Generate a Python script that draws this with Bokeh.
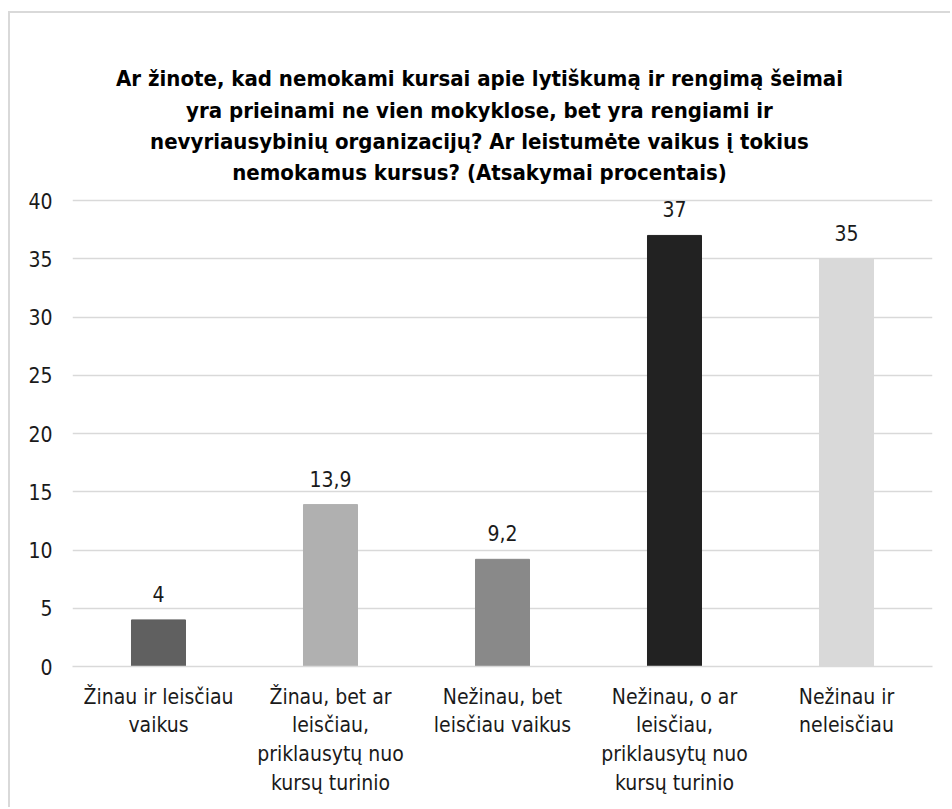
from bokeh.plotting import figure
from bokeh.models import Range1d, FixedTicker, ColumnDataSource
from bokeh.embed import file_html
from bokeh.resources import INLINE
from bokeh.core.properties import value

categories = [
    "Žinau ir leisčiau\nvaikus",
    "Žinau, bet ar\nleisčiau,\npriklausytų nuo\nkursų turinio",
    "Nežinau, bet\nleisčiau vaikus",
    "Nežinau, o ar\nleisčiau,\npriklausytų nuo\nkursų turinio",
    "Nežinau ir\nneleisčiau",
]
values = [4, 13.9, 9.2, 37, 35]
value_labels = ["4", "13,9", "9,2", "37", "35"]
colors = ["#606060", "#b0b0b0", "#898989", "#222222", "#d9d9d9"]
y_ticks = [0, 5, 10, 15, 20, 25, 30, 35, 40]

title_lines = [
    "Ar žinote, kad nemokami kursai apie lytiškumą ir rengimą šeimai",
    "yra prieinami ne vien mokyklose, bet yra rengiami ir",
    "nevyriausybinių organizacijų? Ar leistumėte vaikus į tokius",
    "nemokamus kursus? (Atsakymai procentais)",
]

FONT = "DejaVu Sans Condensed"
TXT = "#1a1a1a"

# layout (pixels)
AXIS_MAX = 40
PLOT_H = 466            # height of the 0..40 value area
TITLE_SPACE = 160       # extra frame space above the value area for the title
FRAME_W = 860
px_per_unit = PLOT_H / AXIS_MAX
px_per_cat = FRAME_W / len(categories)
title_center_px = 407               # px right of frame left edge
title_rows_px = [122, 90, 59, 28]   # line centres, px above the 40 gridline

src = ColumnDataSource(dict(cat=categories, val=values, lab=value_labels, col=colors))

p = figure(x_range=categories, y_range=Range1d(0, (PLOT_H + TITLE_SPACE) / px_per_unit),
           width=940, height=794, frame_width=FRAME_W, frame_height=PLOT_H + TITLE_SPACE,
           title=None, output_backend="svg", toolbar_location=None,
           min_border_left=62, min_border_right=18, min_border_top=27, min_border_bottom=141)
p.styles = {"margin-left": "8px", "margin-top": "11px",
            "border-top": "2px solid #d9d9d9", "border-left": "2px solid #d9d9d9"}

tsrc = ColumnDataSource(dict(
    x=[title_center_px / px_per_cat] * len(title_lines),
    y=[AXIS_MAX + d / px_per_unit for d in title_rows_px],
    t=title_lines))
p.text(x="x", y="y", text="t", source=tsrc, text_align="center", text_baseline="middle",
       text_font=value(FONT), text_font_size="22px", text_font_style="bold",
       text_color="#000000")

p.vbar(x="cat", top="val", width=0.314, color="col", source=src)
p.text(x="cat", y="val", text="lab", source=src, text_align="center", text_baseline="bottom",
       y_offset=-18, text_font=value(FONT), text_font_size="21px", text_color=TXT)

p.outline_line_color = None
p.xgrid.grid_line_color = None
p.ygrid.grid_line_color = "#d9d9d9"
p.ygrid.grid_line_width = 1.5
p.yaxis.ticker = FixedTicker(ticks=y_ticks)
p.yaxis.axis_line_color = None
p.yaxis.major_tick_line_color = None
p.yaxis.major_tick_out = 0
p.yaxis.major_tick_in = 0
p.yaxis.minor_tick_line_color = None
p.yaxis.major_label_standoff = 20
p.yaxis.major_label_text_font = FONT
p.yaxis.major_label_text_font_size = "21px"
p.yaxis.major_label_text_color = TXT

p.xaxis.axis_line_color = "#d9d9d9"
p.xaxis.axis_line_width = 1.5
p.xaxis.major_tick_line_color = None
p.xaxis.major_tick_out = 0
p.xaxis.major_tick_in = 0
p.xaxis.minor_tick_line_color = None
p.xaxis.major_label_standoff = 18
p.xaxis.major_label_text_font = FONT
p.xaxis.major_label_text_font_size = "21px"
p.xaxis.major_label_text_color = TXT
p.xaxis.major_label_text_line_height = 1.2

open("out.html", "w").write(file_html(p, INLINE))
